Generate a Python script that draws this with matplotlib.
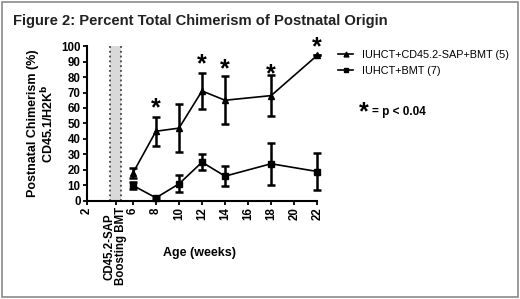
import matplotlib.pyplot as plt
from matplotlib.patches import Rectangle
from matplotlib.lines import Line2D

plt.rcParams['font.family'] = ['Liberation Sans', 'DejaVu Sans']

# data
weeks = [6, 8, 10, 12, 14, 18, 22]
sap_mean = [18, 45, 47, 71, 65, 68, 94]
sap_err = [3, 9.5, 15.5, 11.5, 15.5, 13, 0]
bmt_mean = [10, 2, 11, 25, 16, 24, 19]
bmt_err = [2.5, 1, 5.5, 5, 6.5, 13.5, 12]
star_x = [8, 12, 14, 18, 22]
star_y = [60, 88, 85, 82, 99]
xticks = [2, 4.5, 6, 8, 10, 12, 14, 16, 18, 20, 22]
xticklabels = ['2', 'CD45.2-SAP\nBoosting BMT', '6', '8', '10', '12', '14', '16', '18', '20', '22']

fig = plt.figure(figsize=(5.2, 2.99), dpi=100)
fig.patches.append(Rectangle((0.004, 0.007), 0.992, 0.986, transform=fig.transFigure,
                             fill=False, edgecolor='#8a8a8a', linewidth=1.2))
fig.text(0.025, 0.915, 'Figure 2: Percent Total Chimerism of Postnatal Origin',
         fontsize=10.6, fontweight='bold', color='#222222')

ax = fig.add_axes([0.167, 0.328, 0.443, 0.518])

ax.axvspan(4, 5, color='#d9d9d9', linewidth=0)
ax.axvline(4, color='#444444', linestyle=':', linewidth=1.3)
ax.axvline(5, color='#444444', linestyle=':', linewidth=1.3)

ax.errorbar(weeks, sap_mean, yerr=sap_err, color='black', marker='^', markersize=4,
            linewidth=1.2, elinewidth=1.8, capsize=3, capthick=1.8, clip_on=False)
ax.errorbar(weeks, bmt_mean, yerr=bmt_err, color='black', marker='s', markersize=5,
            linewidth=1.2, elinewidth=1.8, capsize=3, capthick=1.8, clip_on=False)

for x, y in zip(star_x, star_y):
    ax.text(x, y, '*', fontsize=18, fontweight='bold', ha='center', va='center')

ax.set_xlim(2, 22)
ax.set_ylim(0, 100)
ax.set_yticks(range(0, 101, 10))
ax.set_xticks(xticks)
ax.set_xticklabels(xticklabels, rotation=90, linespacing=0.95)
ax.tick_params(labelsize=8.3, width=1.3, length=3, pad=1.5)
for lab in ax.get_xticklabels() + ax.get_yticklabels():
    lab.set_fontweight('bold')
for s in ['top', 'right']:
    ax.spines[s].set_visible(False)
for s in ['left', 'bottom']:
    ax.spines[s].set_linewidth(1.5)

ax.set_xlabel('Age (weeks)', fontsize=9, fontweight='bold')
ax.xaxis.set_label_coords(0.49, -0.30)
ax.set_ylabel('Postnatal Chimerism (%)\nCD45.1/H2K$^\\mathbf{b}$', fontsize=9,
              fontweight='bold', linespacing=1.1)
ax.yaxis.set_label_coords(-0.135, 0.5)

handles = [Line2D([], [], color='black', marker='^', markersize=3.5, linewidth=1.2),
           Line2D([], [], color='black', marker='s', markersize=3.5, linewidth=1.2)]
labels = ['IUHCT+CD45.2-SAP+BMT (5)', 'IUHCT+BMT (7)']
ax.legend(handles, labels, loc='upper left', bbox_to_anchor=(1.05, 1.04), frameon=False,
          fontsize=7.8, handlelength=1.3, handletextpad=0.9, labelspacing=0.55)

fig.text(0.69, 0.625, '*', fontsize=18, fontweight='bold', ha='left', va='center')
fig.text(0.715, 0.627, '= p < 0.04', fontsize=8.5, fontweight='bold', ha='left', va='center')

fig.savefig('out.png', dpi=100)
